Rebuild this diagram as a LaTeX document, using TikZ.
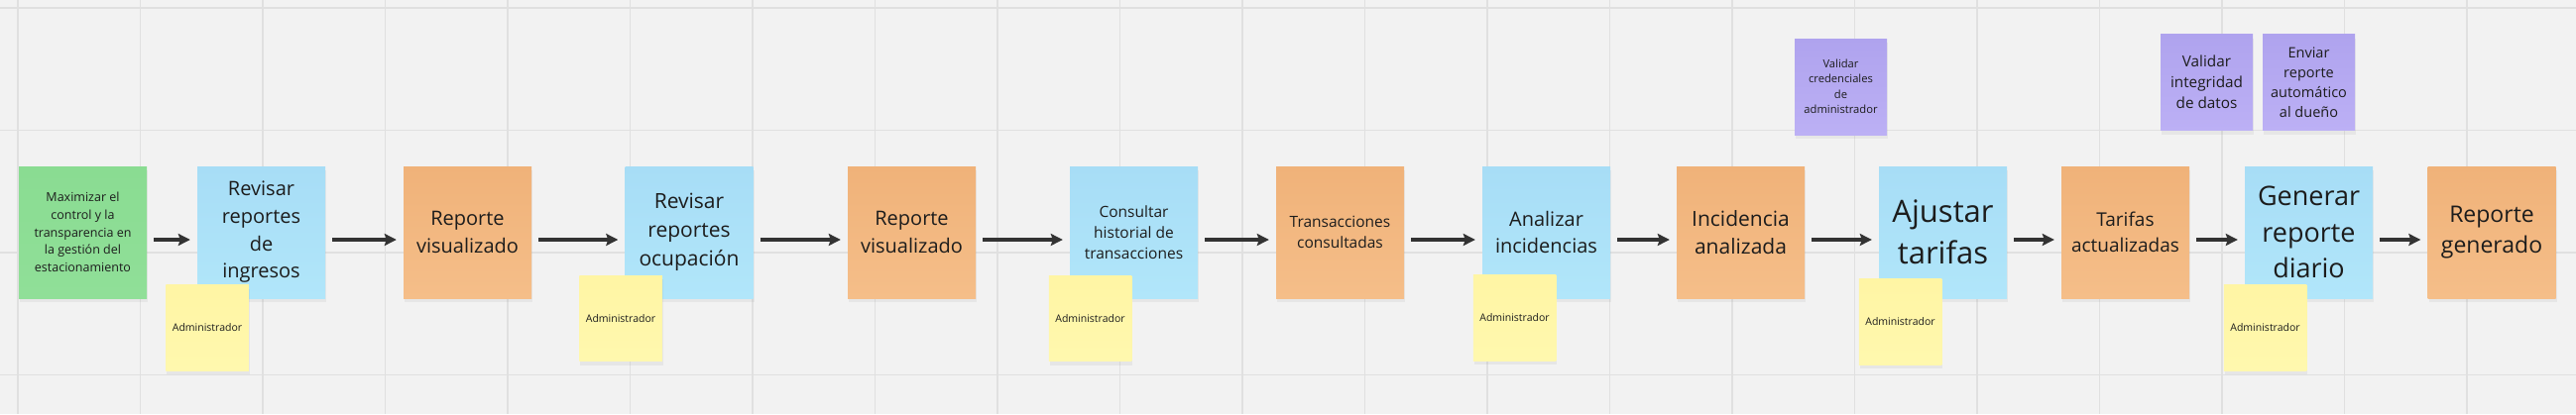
\documentclass[tikz,border=0pt]{standalone}
\usepackage{fontspec}
\setmainfont{Open Sans}
\usetikzlibrary{arrows.meta,shadows}
\definecolor{bg}{HTML}{F2F2F2}
\definecolor{gridc}{HTML}{E0E0E0}
\definecolor{ink}{HTML}{1C1C1C}
\definecolor{arrc}{HTML}{333333}
\definecolor{greenA}{HTML}{8ADC92}
\definecolor{greenB}{HTML}{90DF98}
\definecolor{blueA}{HTML}{A7DDF6}
\definecolor{blueB}{HTML}{B1E6FA}
\definecolor{orA}{HTML}{F0B279}
\definecolor{orB}{HTML}{F5BE89}
\definecolor{yelA}{HTML}{FFF5A4}
\definecolor{yelB}{HTML}{FFF8AE}
\definecolor{purA}{HTML}{AFA3EE}
\definecolor{purB}{HTML}{BCB0F5}
\newcommand{\fsz}[2]{\fontsize{#1}{#2}\selectfont}
\tikzset{
  sticky/.style={draw=none, inner sep=0pt, align=center, text=ink,
    drop shadow={opacity=0.10, shadow xshift=1pt, shadow yshift=-4pt}},
  mainbox/.style={sticky, minimum width=129pt, minimum height=133pt},
  gbox/.style={mainbox, top color=greenA, bottom color=greenB},
  bbox/.style={mainbox, top color=blueA, bottom color=blueB},
  obox/.style={mainbox, top color=orA, bottom color=orB},
  ybox/.style={sticky, minimum width=83.5pt, minimum height=86.5pt, top color=yelA, bottom color=yelB, font=\fsz{10.5}{14}},
  pbox/.style={sticky, minimum width=93pt, minimum height=97pt, top color=purA, bottom color=purB},
  gridline/.style={draw=gridc, line width=1.3pt},
  arr/.style={draw=arrc, line width=4pt, -{Stealth[length=12pt,width=12pt,inset=2pt]}}
}
\begin{document}
\begin{tikzpicture}[x=1pt,y=-1pt]
\fill[bg] (0,0) rectangle (2598,418);
\useasboundingbox (0,0) rectangle (2598,418);
\foreach \gx in {18,141.5,...,2598} \draw[gridline] (\gx,0) -- (\gx,418);
\foreach \gy in {8,131.5,...,418} \draw[gridline] (0,\gy) -- (2598,\gy);

% main boxes
\node[gbox, font=\fsz{12.5}{17.7}] (g) at (83.5,234.5) {Maximizar el\\control y la\\transparencia en\\la gestión del\\estacionamiento};
\node[bbox, font=\fsz{20}{27.7}] (b1) at (263.5,234.5) {Revisar\\reportes\\de\\ingresos};
\node[obox, font=\fsz{20}{27.7}] (o1) at (471.5,234.5) {Reporte\\visualizado};
\node[bbox, font=\fsz{21}{29}] (b2) at (695,234.5) {Revisar\\reportes\\ocupación};
\node[obox, font=\fsz{20}{27.7}] (o2) at (919.5,234.5) {Reporte\\visualizado};
\node[bbox, font=\fsz{15.5}{21.3}] (b3) at (1143.5,234.5) {Consultar\\historial de\\transacciones};
\node[obox, font=\fsz{15.5}{21.3}] (o3) at (1351.5,234.5) {Transacciones\\consultadas};
\node[bbox, font=\fsz{20}{27.3}] (b4) at (1559.5,234.5) {Analizar\\incidencias};
\node[obox, font=\fsz{21}{28.7}] (o4) at (1755.5,234.5) {Incidencia\\analizada};
\node[bbox, font=\fsz{31}{42}] (b5) at (1959.5,234.5) {Ajustar\\tarifas};
\node[obox, font=\fsz{19}{26.3}] (o5) at (2143.5,234.5) {Tarifas\\actualizadas};
\node[bbox, font=\fsz{27}{36.7}] (b6) at (2328.5,234.5) {Generar\\reporte\\diario};
\node[obox, font=\fsz{23}{31}] (o6) at (2513,234.5) {Reporte\\generado};

% actor stickies
\node[ybox] (y1) at (209,331) {Administrador};
\node[ybox] (y2) at (626,321.5) {Administrador};
\node[ybox] (y3) at (1099.5,321.5) {Administrador};
\node[ybox] (y4) at (1527.5,321) {Administrador};
\node[ybox] (y5) at (1916.5,325) {Administrador};
\node[ybox] (y6) at (2284.5,331) {Administrador};

% policy stickies
\node[pbox, font=\fsz{11.2}{15.5}] (p1) at (1856.5,87.5) {Validar\\credenciales\\de\\administrador};
\node[pbox, font=\fsz{15.3}{21}] (p2) at (2225.5,83) {Validar\\integridad\\de datos};
\node[pbox, font=\fsz{14.5}{20}] (p3) at (2328.5,83) {Enviar\\reporte\\automático\\al dueño};

% connectors
\foreach \a/\b in {g/b1,b1/o1,o1/b2,b2/o2,o2/b3,b3/o3,o3/b4,b4/o4,o4/b5,b5/o5,o5/b6,b6/o6}
  \draw[arr] ([xshift=7pt,yshift=-7.5pt]\a.east) -- ([xshift=-7pt,yshift=-7.5pt]\b.west);
\end{tikzpicture}
\end{document}
